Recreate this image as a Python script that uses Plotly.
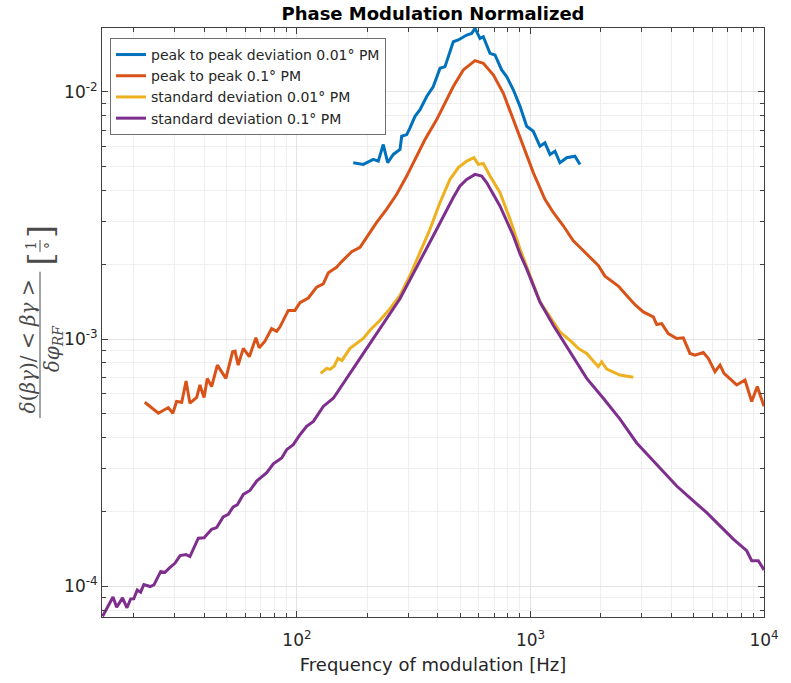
import plotly.graph_objects as go

# ---------------- data ----------------
f_ptp001 = [174.2, 192.3, 212.2, 222.9, 234.2, 244.6, 258.5, 276.2, 280.9, 295.1, 304.8, 320.2,
            336.4, 359.4, 383.5, 409.8, 430.5, 444.6, 467, 490.8, 515.6, 533.2, 560, 578.7,
            607.7, 628, 670.8, 704.7, 752.5, 790.5, 844, 902, 963, 1028, 1098, 1153, 1212,
            1273, 1337, 1429, 1550, 1629]
v_ptp001 = [5.165e-3, 5.084e-3, 5.326e-3, 5.242e-3, 6.118e-3, 5.165e-3, 5.58e-3, 5.844e-3, 6.61e-3,
            6.714e-3, 7.143e-3, 7.955e-3, 8.465e-3, 9.574e-3, 1.05e-2, 1.245e-2, 1.264e-2, 1.387e-2,
            1.594e-2, 1.62e-2, 1.67e-2, 1.696e-2, 1.723e-2, 1.804e-2, 1.644e-2, 1.67e-2, 1.431e-2,
            1.409e-2, 1.226e-2, 1.152e-2, 1.019e-2, 8.73e-3, 7.25e-3, 6.92e-3, 6.02e-3, 6.215e-3,
            5.58e-3, 5.753e-3, 5.165e-3, 5.41e-3, 5.49e-3, 5.084e-3]

f_ptp01 = [22.3, 25.5, 28.1, 29.4, 30.5, 32.1, 33.5, 34.8, 37.2, 38.4, 40.0, 41.3, 43.1, 45.6,
           49.6, 53.0, 54.3, 56.0, 58.9, 62.5, 66.7, 68.9, 72.9, 77.9, 81.9, 84.6, 91.8, 98.0,
           103, 111.8, 121.4, 129.6, 136.2, 147.9, 155.4, 171.5, 186.2, 205.4, 219.4, 242.2,
           267.3, 295.1, 325.6, 353.4, 396.6, 467, 515.6, 578.7, 628, 692.9, 764.6, 844, 931.4,
           1028, 1153, 1252, 1382, 1525, 1657, 1829, 1951, 2084, 2377, 2582, 2803, 3041, 3357,
           3472, 3647, 3891, 4228, 4512, 4821, 5064, 5495, 5774, 6167, 6481, 6741, 7638, 8291,
           8857, 9360, 10000]
v_ptp01 = [5.55e-4, 5.01e-4, 5.28e-4, 5.01e-4, 5.59e-4, 5.55e-4, 6.76e-4, 5.5e-4, 5.8e-4, 6.52e-4,
           5.8e-4, 6.93e-4, 6.42e-4, 7.84e-4, 6.93e-4, 8.88e-4, 8.93e-4, 7.84e-4, 9.16e-4, 8.48e-4,
           1.011e-3, 9.22e-4, 9.8e-4, 1.102e-3, 1.075e-3, 1.12e-3, 1.305e-3, 1.305e-3, 1.402e-3,
           1.465e-3, 1.622e-3, 1.672e-3, 1.852e-3, 1.952e-3, 2.056e-3, 2.256e-3, 2.35e-3, 2.7e-3,
           2.962e-3, 3.352e-3, 3.851e-3, 4.562e-3, 5.49e-3, 6.41e-3, 7.72e-3, 1.05e-2, 1.226e-2,
           1.337e-2, 1.305e-2, 1.171e-2, 9.88e-3, 7.72e-3, 6.02e-3, 4.71e-3, 3.676e-3, 3.25e-3,
           2.871e-3, 2.498e-3, 2.312e-3, 2.109e-3, 1.982e-3, 1.796e-3, 1.637e-3, 1.5e-3, 1.377e-3,
           1.287e-3, 1.228e-3, 1.144e-3, 1.154e-3, 1.052e-3, 1.005e-3, 1.011e-3, 8.74e-4, 8.6e-4,
           8.82e-4, 8.35e-4, 7.38e-4, 7.84e-4, 7.26e-4, 6.52e-4, 6.83e-4, 5.59e-4, 6.42e-4, 5.34e-4]

f_std001 = [126.3, 130.5, 134.1, 138.5, 144.1, 149.8, 155.8, 168.7, 192.3, 205.4, 226.7, 250.2,
            276.2, 304.8, 336.4, 371.3, 409.8, 452.2, 490.8, 533.2, 572.9, 597.7, 628, 670.8, 740,
            817, 902, 995, 1098, 1252, 1337, 1501, 1602, 1741, 1951, 2018, 2120, 2417, 2756]
v_std001 = [7.26e-4, 7.47e-4, 7.61e-4, 7.54e-4, 7.75e-4, 8.35e-4, 8.19e-4, 9.16e-4, 1.005e-3,
            1.085e-3, 1.19e-3, 1.326e-3, 1.5e-3, 1.806e-3, 2.244e-3, 2.784e-3, 3.566e-3, 4.424e-3,
            4.932e-3, 5.242e-3, 5.41e-3, 5.084e-3, 5.13e-3, 4.562e-3, 3.913e-3, 3.055e-3, 2.312e-3,
            1.806e-3, 1.415e-3, 1.173e-3, 1.069e-3, 9.74e-4, 9.16e-4, 8.74e-4, 7.73e-4, 8.09e-4,
            7.56e-4, 7.15e-4, 7.0e-4]

f_std01 = [14.7, 16.3, 16.9, 17.9, 18.7, 19.4, 20.0, 20.7, 21.4, 22.1, 23.5, 24.4, 26.1, 27.2,
           28.6, 30.0, 31.6, 33.5, 34.8, 37.8, 40.0, 43.1, 45.3, 48.3, 50.8, 53.3, 55.5, 58.9, 62.9,
           67.2, 74.2, 79.2, 86.0, 90.3, 96.4, 103, 110, 117.5, 129.6, 143.1, 198.9, 276, 383.5,
           423, 467, 499, 533, 578.7, 618, 649, 740, 844, 902, 963, 1098, 1252, 1476, 1741, 2050,
           2417, 2850, 3585, 4228, 4980, 5684, 6481, 7388, 8431, 8857, 9454, 10000]
v_std01 = [7.55e-5, 9.04e-5, 8.22e-5, 8.97e-5, 8.18e-5, 8.89e-5, 8.9e-5, 9.66e-5, 9.46e-5, 1.016e-4,
           9.97e-5, 1.012e-4, 1.148e-4, 1.138e-4, 1.192e-4, 1.238e-4, 1.33e-4, 1.342e-4, 1.318e-4,
           1.564e-4, 1.57e-4, 1.70e-4, 1.727e-4, 1.908e-4, 1.954e-4, 2.094e-4, 2.133e-4, 2.351e-4,
           2.44e-4, 2.662e-4, 2.877e-4, 3.126e-4, 3.304e-4, 3.568e-4, 3.737e-4, 4.10e-4, 4.43e-4,
           4.64e-4, 5.336e-4, 5.76e-4, 9.16e-4, 1.455e-3, 2.617e-3, 3.148e-3, 3.735e-3, 4.157e-3,
           4.424e-3, 4.634e-3, 4.562e-3, 4.291e-3, 3.455e-3, 2.617e-3, 2.208e-3, 1.922e-3, 1.411e-3,
           1.136e-3, 8.88e-4, 6.93e-4, 5.76e-4, 4.74e-4, 3.798e-4, 3.012e-4, 2.542e-4, 2.213e-4,
           1.985e-4, 1.755e-4, 1.55e-4, 1.392e-4, 1.269e-4, 1.269e-4, 1.163e-4]

series_names = ["peak to peak deviation 0.01° PM", "peak to peak 0.1° PM",
                "standard deviation 0.01° PM", "standard deviation 0.1° PM"]
series_colors = ["#0072BD", "#D95319", "#EDB120", "#7E2F8E"]

x_major = [100, 1000, 10000]
x_major_text = ["10<sup>2</sup>", "10<sup>3</sup>", "10<sup>4</sup>"]
y_major = [1e-4, 1e-3, 1e-2]
y_major_text = ["10<sup>-4</sup>", "10<sup>-3</sup>", "10<sup>-2</sup>"]

title_text = "Phase Modulation Normalized"
x_title = "Frequency of modulation [Hz]"

# ---------------- figure ----------------
FONT = "DejaVu Sans"
SERIF = "DejaVu Serif"
TXT = "#262626"
MATH = "#4a4a4a"

fig = go.Figure()
for xs, ys, nm, col in zip([f_ptp001, f_ptp01, f_std001, f_std01],
                           [v_ptp001, v_ptp01, v_std001, v_std01],
                           series_names, series_colors):
    fig.add_trace(go.Scatter(x=xs, y=ys, mode="lines", name=nm,
                             line=dict(color=col, width=3)))

x_minor = [m * 10 ** k for k in range(1, 4) for m in range(2, 10)]
y_minor = [m * 10 ** k for k in range(-5, -1) for m in range(2, 10)]

axis_common = dict(
    type="log", showline=True, linecolor="#404040", linewidth=1, mirror="allticks",
    ticks="inside", ticklen=6, tickcolor="#404040", showgrid=True, gridcolor="#e3e3e3",
    gridwidth=1, zeroline=False, tickfont=dict(family=FONT, size=17, color=TXT),
)

fig.update_xaxes(
    **axis_common, range=[1.165, 4.0], tickmode="array", tickvals=x_major, ticktext=x_major_text,
    ticklabelstandoff=8,
    minor=dict(tickmode="array", tickvals=x_minor, ticks="inside", ticklen=4, tickcolor="#404040",
               showgrid=True, gridcolor="#efefef"),
    title=dict(text=x_title, font=dict(family=FONT, size=18, color=TXT), standoff=8),
)
fig.update_yaxes(
    **axis_common, range=[-4.1245, -1.742], tickmode="array", tickvals=y_major, ticktext=y_major_text,
    minor=dict(tickmode="array", tickvals=y_minor, ticks="inside", ticklen=4, tickcolor="#404040",
               showgrid=True, gridcolor="#efefef"),
)

L, R, T, B = 102, 27, 28, 63
W, H = 791, 683
pw, ph = W - L - R, H - T - B


def px(xp):
    return (xp - L) / pw


def py(yp):
    return (H - B - yp) / ph


annos = [
    dict(text="<i>δ</i>(<i>βγ</i>)/ &lt; <i>βγ</i> &gt;", x=px(28), y=py(348), textangle=-90,
         font=dict(family=SERIF, size=20, color=MATH)),
    dict(text="<i>δφ</i><sub><i>RF</i></sub>", x=px(53), y=py(350), textangle=-90,
         font=dict(family=SERIF, size=20, color=MATH)),
    dict(text="[", x=px(40), y=py(261), textangle=-90,
         font=dict(family=SERIF, size=34, color=MATH)),
    dict(text="]", x=px(40), y=py(233), textangle=-90,
         font=dict(family=SERIF, size=34, color=MATH)),
    dict(text="1", x=px(31), y=py(247), textangle=-90,
         font=dict(family=SERIF, size=14, color=MATH)),
    dict(text="°", x=px(50), y=py(247), textangle=-90,
         font=dict(family=SERIF, size=14, color=MATH)),
]
for a in annos:
    fig.add_annotation(xref="paper", yref="paper", showarrow=False,
                       xanchor="center", yanchor="middle", **a)

fig.add_shape(type="line", xref="paper", yref="paper", x0=px(40), x1=px(40),
              y0=py(420), y1=py(273), line=dict(color=MATH, width=1))
fig.add_shape(type="line", xref="paper", yref="paper", x0=px(40), x1=px(40),
              y0=py(253), y1=py(241), line=dict(color=MATH, width=1))

fig.update_layout(
    width=W, height=H, margin=dict(l=L, r=R, t=T, b=B),
    paper_bgcolor="white", plot_bgcolor="white",
    title=dict(text="<b>" + title_text + "</b>", x=px(433), xref="paper",
               xanchor="center", y=1 - 14 / H, yanchor="middle",
               font=dict(family=FONT, size=18, color="#000000")),
    legend=dict(x=px(110), y=py(38), xanchor="left", yanchor="top",
                bgcolor="white", bordercolor="#6e6e6e", borderwidth=1,
                font=dict(family=FONT, size=14, color=TXT), tracegroupgap=0,
                itemwidth=30),
    showlegend=True,
)

fig.write_html("out.html")
